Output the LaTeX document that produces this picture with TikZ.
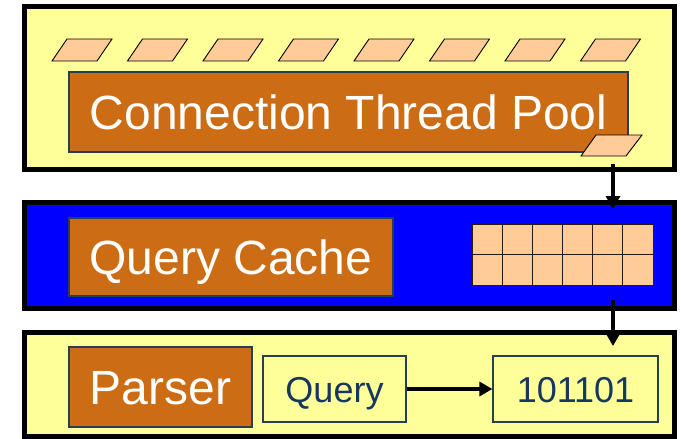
\documentclass[tikz,border=0pt]{standalone}
\usepackage{fontspec}
\setmainfont{Liberation Sans}
\usetikzlibrary{arrows.meta}
\definecolor{paleyellow}{RGB}{255,255,153}
\definecolor{peach}{RGB}{255,204,153}
\definecolor{rust}{RGB}{204,108,20}
\definecolor{edgeslate}{RGB}{38,64,80}
\definecolor{navytext}{RGB}{23,55,94}
\tikzset{
  panel/.style={draw=black, line width=5pt, minimum width=650pt, inner sep=0pt},
  layerbox/.style={draw=edgeslate, line width=1.2pt, fill=rust, text=white,
    font=\fontsize{48}{48}\selectfont, text height=34pt, text depth=0pt, inner sep=0pt},
  itembox/.style={draw=edgeslate, line width=1.2pt, fill=paleyellow, text=navytext,
    font=\fontsize{36}{36}\selectfont, text height=26pt, text depth=0pt, inner sep=0pt},
  slot/.style={draw=black, line width=0.9pt, fill=peach},
  cell/.style={draw=black!80!brown, line width=0.9pt, fill=peach},
  flow/.style={line width=4pt, -{Triangle[length=13pt,width=14pt]}},
}
\begin{document}
\begin{tikzpicture}[x=1pt, y=-1pt]
\useasboundingbox (0,0) rectangle (681,439);

% three layers
\node[panel, fill=paleyellow, minimum height=163pt] (poolpanel) at (349.5,88) {};
\node[panel, fill=blue, minimum height=106pt] (cachepanel) at (349.5,255.5) {};
\node[panel, fill=paleyellow, minimum height=104pt] (parsepanel) at (349.5,384.5) {};

% connection pool
\node[layerbox, minimum width=559pt, minimum height=80pt] (pool) at (348.5,112) {Connection Thread Pool};
\foreach \i in {0,...,7}{
  \pgfmathsetmacro{\bx}{52+75.5*\i}
  \draw[slot] (\bx,61) -- (\bx+45,61) -- (\bx+60,39) -- (\bx+15,39) -- cycle;
}
\draw[slot] (581,156) -- (626,156) -- (642,135) -- (596,135) -- cycle;
\coordinate (threadout) at (613,164);
\coordinate (cachein) at (613,209);

% query cache with its 6 x 2 table of entries
\node[layerbox, minimum width=324pt, minimum height=78pt] (cache) at (231,257) {Query Cache};
\foreach \c in {0,...,5}{
  \foreach \r in {0,1}{
    \draw[cell] (472+30.1667*\c,224+30.5*\r) rectangle ++(30.1667,30.5);
  }
}
\coordinate (cacheout) at (613,300);
\coordinate (parsein) at (613,346);

% parser
\node[layerbox, minimum width=183pt, minimum height=80pt] (parser) at (160.5,387) {Parser};
\node[itembox, minimum width=143pt, minimum height=66pt] (query) at (334.5,389) {Query};
\node[itembox, minimum width=165pt, minimum height=66pt] (binary) at (575.5,389) {101101};

% flow
\draw[flow] (threadout) -- (cachein);
\draw[flow] (cacheout) -- (parsein);
\draw[flow] (query) -- (binary);
\end{tikzpicture}
\end{document}
